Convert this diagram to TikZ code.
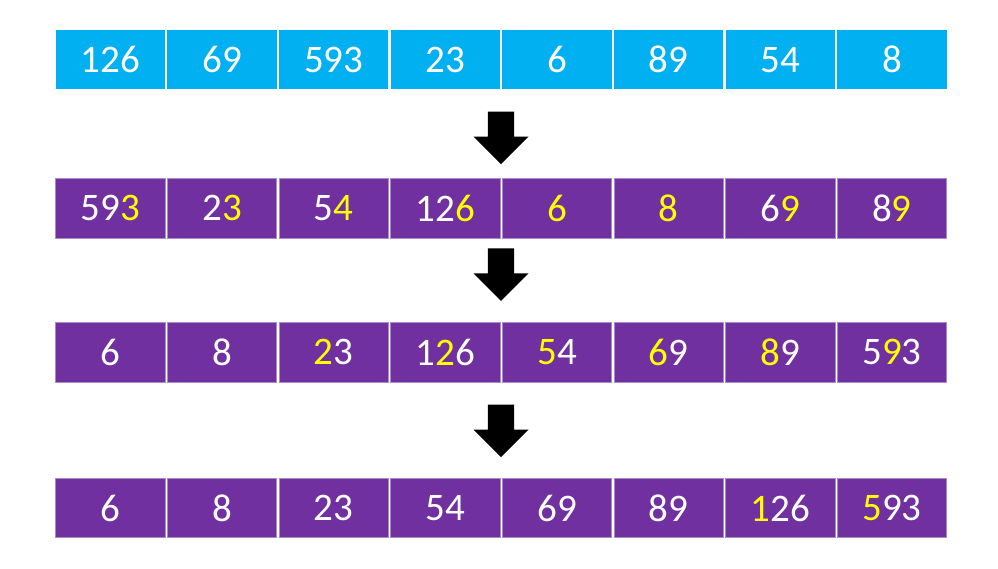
\documentclass[tikz,border=0pt]{standalone}
\usepackage{fontspec}
\setmainfont{Carlito}
\definecolor{cell blue}{HTML}{00B0F0}
\definecolor{cell purple}{HTML}{7030A0}
\definecolor{cell edge}{HTML}{A98BCB}
\definecolor{digit yellow}{HTML}{FFFF00}
\newcommand{\yd}[1]{\textcolor{digit yellow}{#1}}
\begin{document}
\begin{tikzpicture}[x=1pt,y=-1pt,
  cell/.style={minimum width=109.5pt, minimum height=59.5pt, inner sep=0pt, text=white, font=\fontsize{39}{39}\selectfont},
  bluecell/.style={cell, fill=cell blue},
  purplecell/.style={cell, fill=cell purple, draw=cell edge, line width=0.7pt},
  fatarrow/.pic={\fill[black] (-13.2,0) -- (13.2,0) -- (13.2,25) -- (27.5,25) -- (0,52.5) -- (-27.5,25) -- (-13.2,25) -- cycle;}]
\useasboundingbox (0,0) rectangle (998,568);
\def\pitch{111.65}
% start
\foreach \v [count=\i from 0] in {126,69,593,23,6,89,54,8}
  \node[bluecell] (a\i) at (110.4+\i*\pitch,59.7) {\v};
% pass 1: ones
\foreach \v [count=\i from 0] in {59\yd{3},2\yd{3},5\yd{4},12\yd{6},\yd{6},\yd{8},6\yd{9},8\yd{9}}
  \node[purplecell] (b\i) at (110.4+\i*\pitch,208.3) {\v};
% pass 2: tens
\foreach \v [count=\i from 0] in {6,8,\yd{2}3,1\yd{2}6,\yd{5}4,\yd{6}9,\yd{8}9,5\yd{9}3}
  \node[purplecell] (c\i) at (110.4+\i*\pitch,352.2) {\v};
% pass 3: hundreds
\foreach \v [count=\i from 0] in {6,8,23,54,69,89,\yd{1}26,\yd{5}93}
  \node[purplecell] (d\i) at (110.4+\i*\pitch,508) {\v};

\pic at (501,111.7) {fatarrow};
\pic at (501,248.3) {fatarrow};
\pic at (501,404.5) {fatarrow};
\end{tikzpicture}
\end{document}
